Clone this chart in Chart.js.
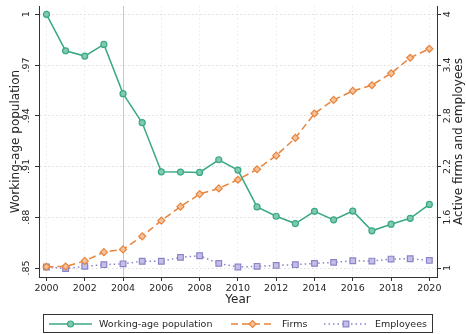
<!DOCTYPE html>
<html>
<head>
<meta charset="utf-8">
<script src="https://cdn.jsdelivr.net/npm/chart.js@4"></script>
<style>
  body { margin: 0; background: #fff; }
  #wrap { width: 466px; height: 334px; }
</style>
</head>
<body>
<div id="wrap"><canvas id="popChart" width="466" height="334"></canvas></div>
<script>
const years = [2000, 2001, 2002, 2003, 2004, 2005, 2006, 2007, 2008, 2009, 2010,
               2011, 2012, 2013, 2014, 2015, 2016, 2017, 2018, 2019, 2020];
// working-age population, index (left axis)
const population = [1.0, 0.9784, 0.9753, 0.9822, 0.9531, 0.9359, 0.9069, 0.9067, 0.9065, 0.914, 0.9079,
                    0.8861, 0.8806, 0.8763, 0.8835, 0.8785, 0.8837, 0.872, 0.8759, 0.8794, 0.8876];
// active firms and employees, index (right axis)
const firms = [1.015, 1.018, 1.084, 1.188, 1.22, 1.375, 1.561, 1.726, 1.874, 1.941, 2.044,
               2.168, 2.329, 2.538, 2.827, 2.988, 3.094, 3.161, 3.302, 3.486, 3.592];
const employees = [1.012, 0.995, 1.02, 1.04, 1.05, 1.08, 1.08, 1.126, 1.145, 1.055, 1.012,
                   1.02, 1.031, 1.04, 1.055, 1.067, 1.086, 1.082, 1.106, 1.11, 1.09];

const yearTicks = [2000, 2002, 2004, 2006, 2008, 2010, 2012, 2014, 2016, 2018, 2020];
const popTicks = [0.85, 0.88, 0.91, 0.94, 0.97, 1];
const popTickLabels = ['.85', '.88', '.91', '.94', '.97', '1'];
const countTicks = [1, 1.6, 2.2, 2.8, 3.4, 4];
const countTickLabels = ['1', '1.6', '2.2', '2.8', '3.4', '4'];
const markerYear = 2004;

const FONT = '"DejaVu Sans", Verdana, sans-serif';
const INK = '#262626';

const toPoints = vals => vals.map((v, i) => ({ x: years[i], y: v }));

// rotated y tick labels, axis titles, the 2004 line and the boxed legend
const decorations = {
  id: 'decorations',
  beforeDatasetsDraw(chart) {
    const { ctx, chartArea, scales } = chart;
    const x = Math.round(scales.x.getPixelForValue(markerYear)) + 0.5;
    ctx.save();
    ctx.strokeStyle = '#c8c8c8';
    ctx.lineWidth = 1;
    ctx.beginPath();
    ctx.moveTo(x, chartArea.top);
    ctx.lineTo(x, chartArea.bottom);
    ctx.stroke();
    ctx.restore();
  },
  afterDraw(chart) {
    const { ctx, chartArea, scales } = chart;
    const midY = (chartArea.top + chartArea.bottom) / 2;

    const vText = (txt, x, y, size) => {
      ctx.save();
      ctx.translate(x, y);
      ctx.rotate(-Math.PI / 2);
      ctx.font = size + 'px ' + FONT;
      ctx.fillStyle = INK;
      ctx.textAlign = 'center';
      ctx.textBaseline = 'middle';
      ctx.fillText(txt, 0, 0);
      ctx.restore();
    };

    popTicks.forEach((v, i) => vText(popTickLabels[i], 26.5, scales.yPop.getPixelForValue(v), 9.5));
    countTicks.forEach((v, i) => vText(countTickLabels[i], 447.5, scales.yCount.getPixelForValue(v), 9.5));
    vText('Working-age population', 15.5, midY, 12);
    vText('Active firms and employees', 459, midY, 12);

    // legend
    ctx.save();
    ctx.strokeStyle = '#333';
    ctx.lineWidth = 1;
    ctx.strokeRect(43.5, 314.5, 389, 18);
    const ly = 324;
    const slots = [
      { x0: 49, x1: 92, tx: 99 },
      { x0: 231, x1: 274, tx: 282 },
      { x0: 324, x1: 368, tx: 375 }
    ];
    chart.data.datasets.forEach((ds, i) => {
      const s = slots[i];
      ctx.save();
      ctx.strokeStyle = ds.borderColor;
      ctx.lineWidth = ds.borderWidth;
      ctx.setLineDash(ds.borderDash || []);
      ctx.beginPath();
      ctx.moveTo(s.x0, ly);
      ctx.lineTo(s.x1, ly);
      ctx.stroke();
      ctx.setLineDash([]);
      ctx.fillStyle = ds.pointBackgroundColor;
      ctx.strokeStyle = ds.pointBorderColor;
      ctx.lineWidth = ds.pointBorderWidth;
      Chart.helpers.drawPoint(ctx, {
        pointStyle: ds.pointStyle, radius: ds.pointRadius,
        borderWidth: ds.pointBorderWidth, rotation: 0
      }, (s.x0 + s.x1) / 2, ly);
      ctx.restore();
      ctx.font = '9.5px ' + FONT;
      ctx.fillStyle = INK;
      ctx.textAlign = 'left';
      ctx.textBaseline = 'middle';
      ctx.fillText(ds.label, s.tx, ly + 0.5);
    });
    ctx.restore();
  }
};

const dotted = [1.5, 2.5];

new Chart(document.getElementById('popChart'), {
  type: 'line',
  data: {
    datasets: [{
      label: 'Working-age population',
      data: toPoints(population),
      yAxisID: 'yPop',
      borderColor: '#3aa983',
      borderWidth: 1.5,
      pointStyle: 'circle',
      pointRadius: 3,
      pointBackgroundColor: '#80caae',
      pointBorderColor: '#3aa983',
      pointBorderWidth: 1.2
    }, {
      label: 'Firms',
      data: toPoints(firms),
      yAxisID: 'yCount',
      borderColor: '#e8843c',
      borderWidth: 1.5,
      borderDash: [7, 4],
      pointStyle: 'rectRot',
      pointRadius: 3.5,
      pointBackgroundColor: '#f6c29a',
      pointBorderColor: '#e8843c',
      pointBorderWidth: 1.2
    }, {
      label: 'Employees',
      data: toPoints(employees),
      yAxisID: 'yCount',
      borderColor: '#8a84c8',
      borderWidth: 1.5,
      borderDash: [1.5, 3],
      pointStyle: 'rect',
      pointRadius: 4,
      pointBackgroundColor: '#c3bfe6',
      pointBorderColor: '#8a84c8',
      pointBorderWidth: 1.2
    }]
  },
  options: {
    responsive: false,
    animation: false,
    devicePixelRatio: 1,
    layout: { padding: { top: 6, left: 0, right: 0, bottom: 0 } },
    plugins: {
      legend: { display: false },
      tooltip: { enabled: false }
    },
    scales: {
      x: {
        type: 'linear',
        min: 1999.61,
        max: 2020.4,
        afterBuildTicks: s => { s.ticks = yearTicks.map(v => ({ value: v })); },
        afterFit: s => { s.height = 57; },
        ticks: {
          color: INK,
          font: { family: FONT, size: 9.5 },
          padding: 2,
          maxRotation: 0,
          callback: v => String(v)
        },
        grid: {
          color: '#ebebeb',
          tickColor: '#333',
          tickLength: 4,
          tickBorderDash: []
        },
        border: { display: true, color: '#333', width: 1, dash: dotted },
        title: {
          display: true,
          text: 'Year',
          color: INK,
          font: { family: FONT, size: 12 },
          padding: { top: 0, bottom: 27 }
        }
      },
      yPop: {
        position: 'left',
        min: 0.8447,
        max: 1.0049,
        afterBuildTicks: s => { s.ticks = popTicks.map(v => ({ value: v })); },
        afterFit: s => { s.width = 39; },
        ticks: { display: false },
        grid: {
          color: '#dcdcdc',
          tickColor: '#333',
          tickLength: 4,
          tickBorderDash: []
        },
        border: { display: true, color: '#333', width: 1, dash: dotted }
      },
      yCount: {
        position: 'right',
        min: 0.894,
        max: 4.098,
        afterBuildTicks: s => { s.ticks = countTicks.map(v => ({ value: v })); },
        afterFit: s => { s.width = 29; },
        ticks: { display: false },
        grid: {
          drawOnChartArea: false,
          tickColor: '#333',
          tickLength: 4
        },
        border: { display: true, color: '#333', width: 1 }
      }
    }
  },
  plugins: [decorations]
});
</script>
</body>
</html>
